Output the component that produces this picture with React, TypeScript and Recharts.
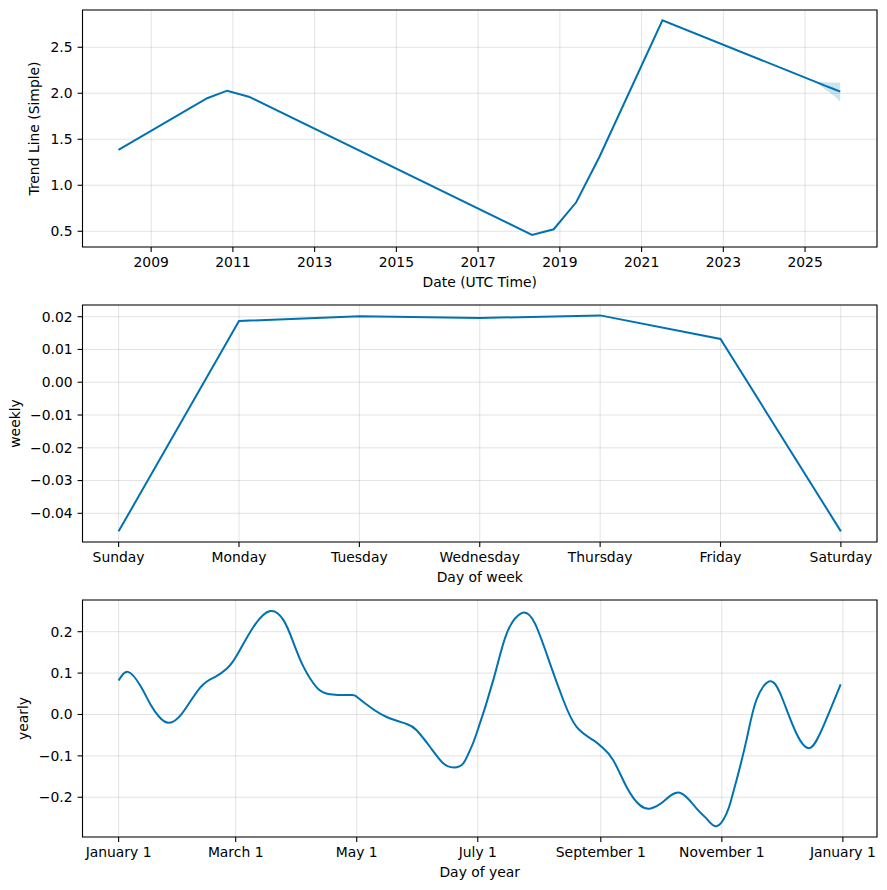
import { ComposedChart, Line, Area, XAxis, YAxis, CartesianGrid, ReferenceArea } from 'recharts';

// trend (fractional year -> value)
const trendYears = [2008.2, 2010.37, 2010.86, 2011.39, 2018.32, 2018.85, 2019.4, 2019.97, 2021.51, 2025.26, 2025.5, 2025.7, 2025.86];
const trendValues = [1.384, 1.946, 2.028, 1.963, 0.46, 0.522, 0.815, 1.31, 2.793, 2.124, 2.081, 2.046, 2.017];
const trendLower = [null, null, null, null, null, null, null, null, null, 2.124, 2.039, 1.975, 1.909];
const trendUpper = [null, null, null, null, null, null, null, null, null, 2.124, 2.12, 2.117, 2.115];
const yearTicks = [2009, 2011, 2013, 2015, 2017, 2019, 2021, 2023, 2025];

// weekly
const weekDays = ['Sunday', 'Monday', 'Tuesday', 'Wednesday', 'Thursday', 'Friday', 'Saturday'];
const weeklyValues = [-0.0455, 0.0187, 0.0201, 0.0196, 0.0204, 0.0132, -0.0455];

// yearly (day of year -> value)
const yearDays = [0, 4.7, 10.9, 16, 20.5, 25.2, 31.9, 41.1, 48.7, 54.6, 59.6, 68, 76.4, 83.1, 88, 93.2, 99.9, 106.6, 116.7, 120, 126.7, 135.1, 145.2, 150.2, 156.9, 163.6, 169, 173.7, 177.1, 180.4, 188.8, 195.6, 203.1, 209.8, 217.4, 224.1, 230.8, 239.2, 243.4, 249.2, 256, 262.7, 268.1, 274.4, 282.8, 291.2, 296.2, 301.3, 306.3, 308.8, 311.4, 316.4, 321.4, 328.6, 334.8, 341.6, 348.3, 355, 363.9];
const yearlyValues = [0.082, 0.103, 0.07, 0.025, -0.006, -0.02, 0.002, 0.065, 0.091, 0.111, 0.143, 0.212, 0.25, 0.228, 0.175, 0.115, 0.065, 0.049, 0.047, 0.043, 0.018, -0.006, -0.023, -0.038, -0.078, -0.118, -0.128, -0.118, -0.086, -0.046, 0.083, 0.196, 0.245, 0.22, 0.123, 0.035, -0.03, -0.062, -0.078, -0.11, -0.175, -0.219, -0.227, -0.211, -0.189, -0.227, -0.251, -0.27, -0.24, -0.205, -0.159, -0.062, 0.035, 0.08, 0.035, -0.046, -0.081, -0.03, 0.073];
const dayTicks = [0, 59, 120, 181, 243, 304, 365];
const dayTickLabels = ['January 1', 'March 1', 'May 1', 'July 1', 'September 1', 'November 1', 'January 1'];

const BLUE = '#0072B2';
const FONT = { fontFamily: 'DejaVu Sans', fontSize: 13.9, fill: '#000' };
const minus = (s: string) => s.replace('-', '\u2212');

const trendData = trendYears.map((x, i) => ({
  x,
  y: trendValues[i],
  band: trendLower[i] == null ? undefined : [trendLower[i], trendUpper[i]],
}));
const weeklyData = weeklyValues.map((y, i) => ({ x: i, y }));
const yearlyData = yearDays.map((x, i) => ({ x, y: yearlyValues[i] }));

function Panel({ top, data, xDomain, yDomain, xTicks, yTicks, xFmt, yFmt, xLabel, yLabel, yLabelX, curve, band }: any) {
  return (
    <div style={{ position: 'absolute', left: 0, top, width: 887, height: 292 }}>
      <ComposedChart width={887} height={292} data={data} margin={{ top: 10, right: 10, bottom: 0, left: 0 }}>
        <CartesianGrid stroke="#808080" strokeOpacity={0.22} strokeWidth={1} />
        <XAxis
          dataKey="x" type="number" scale="linear" domain={xDomain} ticks={xTicks} interval={0}
          allowDataOverflow tickFormatter={xFmt} axisLine={false}
          tickLine={{ stroke: '#000', strokeWidth: 1.1 }} tickSize={4.9} tickMargin={5}
          tick={FONT} height={45}
          label={{ value: xLabel, position: 'insideBottom', offset: 5, ...FONT }}
        />
        <YAxis
          type="number" domain={yDomain} ticks={yTicks} interval={0} allowDataOverflow
          tickFormatter={yFmt} axisLine={false}
          tickLine={{ stroke: '#000', strokeWidth: 1.1 }} tickSize={4.9} tickMargin={5}
          tick={FONT} width={82.5}
          label={{ value: yLabel, angle: -90, position: 'insideLeft', offset: yLabelX, ...FONT, style: { textAnchor: 'middle' } }}
        />
        {band && (
          <Area dataKey="band" type="linear" fill={BLUE} fillOpacity={0.2} stroke="none" isAnimationActive={false} connectNulls={false} />
        )}
        <Line dataKey="y" type={curve} stroke={BLUE} strokeWidth={2} dot={false} activeDot={false} isAnimationActive={false} />
        <ReferenceArea x1={xDomain[0]} x2={xDomain[1]} y1={yDomain[0]} y2={yDomain[1]} fill="none" stroke="#000" strokeWidth={1.1} strokeOpacity={1} />
      </ComposedChart>
    </div>
  );
}

export default function App() {
  return (
    <div style={{ position: 'absolute', left: 0, top: 0, width: 887, height: 890, background: '#fff' }}>
      <Panel
        top={0} data={trendData} xDomain={[2007.32, 2026.76]} yDomain={[0.329, 2.905]}
        xTicks={yearTicks} yTicks={[0.5, 1.0, 1.5, 2.0, 2.5]}
        xFmt={(v: number) => String(v)} yFmt={(v: number) => minus(v.toFixed(1))}
        xLabel="Date (UTC Time)" yLabel="Trend Line (Simple)" yLabelX={34.5} curve="linear" band
      />
      <Panel
        top={295} data={weeklyData} xDomain={[-0.3, 6.3]} yDomain={[-0.04875, 0.02357]}
        xTicks={[0, 1, 2, 3, 4, 5, 6]} yTicks={[-0.04, -0.03, -0.02, -0.01, 0, 0.01, 0.02]}
        xFmt={(v: number) => weekDays[v]} yFmt={(v: number) => minus(v.toFixed(2))}
        xLabel="Day of week" yLabel="weekly" yLabelX={15} curve="linear"
      />
      <Panel
        top={590} data={yearlyData} xDomain={[-18.2, 382.2]} yDomain={[-0.296, 0.2766]}
        xTicks={dayTicks} yTicks={[-0.2, -0.1, 0, 0.1, 0.2]}
        xFmt={(v: number) => dayTickLabels[dayTicks.indexOf(v)]} yFmt={(v: number) => minus(v.toFixed(1))}
        xLabel="Day of year" yLabel="yearly" yLabelX={23.5} curve="natural"
      />
    </div>
  );
}
